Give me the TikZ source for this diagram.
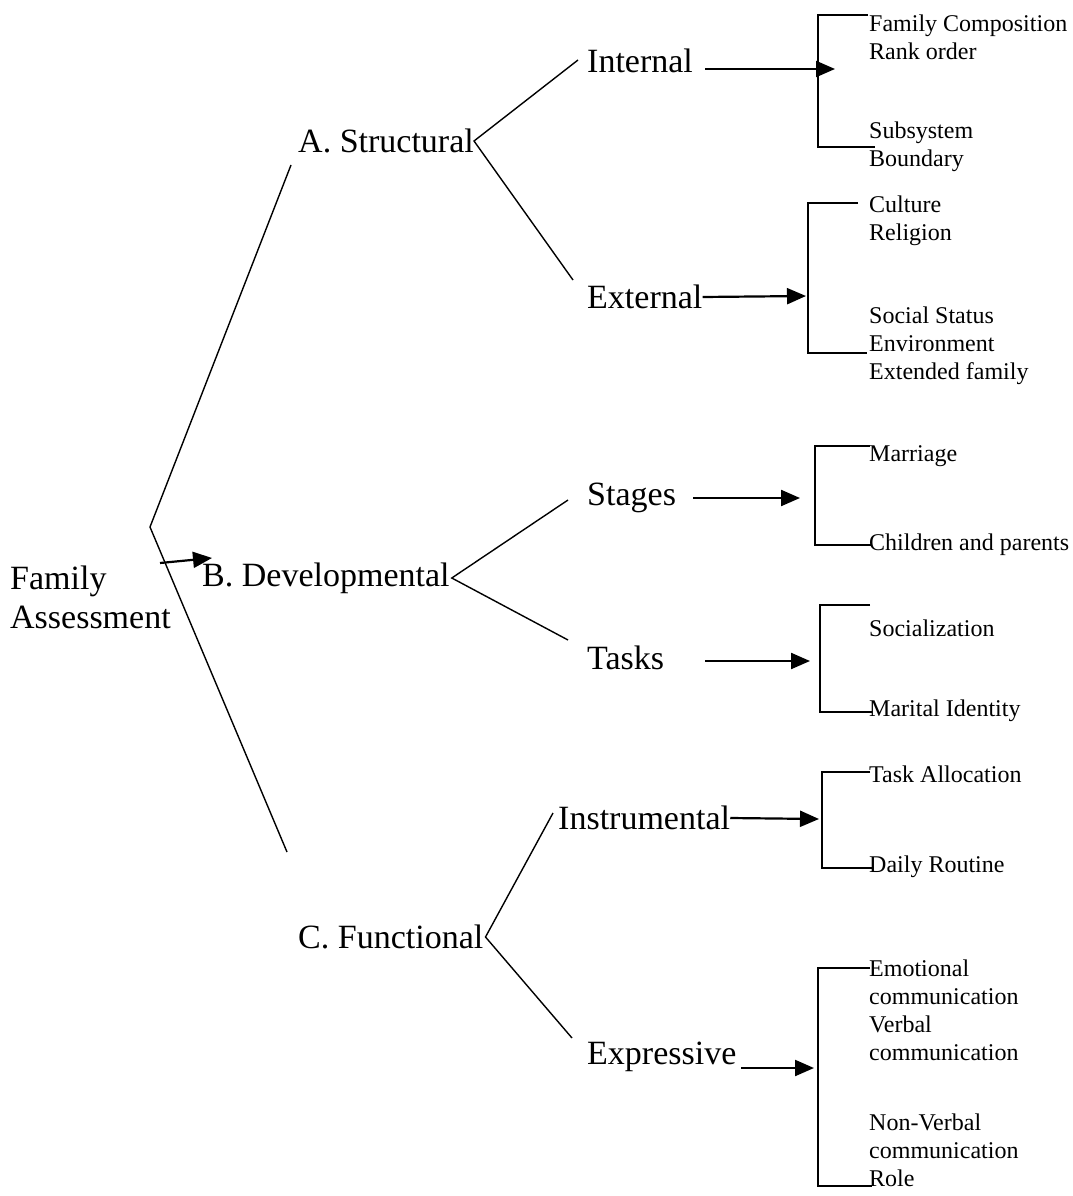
\documentclass[tikz,border=0pt]{standalone}
\usepackage{fontspec}
\setmainfont{Liberation Serif}
\usetikzlibrary{arrows.meta}

\begin{document}
\begin{tikzpicture}[x=1pt, y=-1pt,
    big/.style={anchor=west, inner sep=0pt, align=left, font=\fontsize{34}{39}\selectfont},
    small/.style={anchor=west, inner sep=0pt, align=left, font=\fontsize{24}{28}\selectfont},
    fork/.style={line width=1.4pt},
    brace/.style={line width=2pt},
    arr/.style={line width=2.2pt, -{Triangle[length=19pt,width=16pt]}}]
\useasboundingbox (0,0) rectangle (1072,1196);

% main labels
\node[big] (fam) at (10,597) {Family\\Assessment};
\node[big] (str) at (298,141) {A. Structural};
\node[big] (dev) at (202,578) {B. Developmental};
\node[big] (fun) at (298,937) {C. Functional};

\node[big] (int) at (587,61)   {Internal};
\node[big] (ext) at (587,297)  {External};
\node[big] (stg) at (587,498)  {Stages};
\node[big] (tsk) at (587,658)  {Tasks};
\node[big] (ins) at (558,818)  {Instrumental};
\node[big] (exp) at (587,1057) {Expressive};

% items
\node[small] (comp) at (869,37)   {Family Composition\\Rank order};
\node[small] (subs) at (869,147)  {Subsystem\\Boundary};
\node[small] (cult) at (869,221)  {Culture\\Religion};
\node[small] (soc)  at (869,346)  {Social Status\\Environment\\Extended family};
\node[small] (mar)  at (869,456)  {Marriage};
\node[small] (chil) at (869,545)  {Children and parents};
\node[small] (socz) at (869,628)  {Socialization};
\node[small] (mid)  at (869,711)  {Marital Identity};
\node[small] (task) at (869,774)  {Task Allocation};
\node[small] (day)  at (869,867)  {Daily Routine};
\node[small] (emo)  at (869,1010) {Emotional\\communication\\Verbal\\communication};
\node[small] (nonv) at (869,1150) {Non-Verbal\\communication\\Role};

% big bracket
\coordinate (btop) at (291,165);
\coordinate (bmid) at (150,527);
\coordinate (bbot) at (287,852);
\draw[fork] (btop) -- (bmid) -- (bbot);
\coordinate (ba) at (160,563);
\coordinate (bb) at (212,558);
\draw[arr] (ba) -- (bb);

% forks
\coordinate (sI) at (578,60);   \coordinate (sE) at (573,280);
\coordinate (dS) at (568,500);  \coordinate (dT) at (568,640);
\coordinate (fI) at (553,813);  \coordinate (fE) at (572,1038);
\draw[fork] (sI) -- (str.east) -- (sE);
\draw[fork] (dS) -- ([xshift=2pt]dev.east) -- (dT);
\draw[fork] (fI) -- ([xshift=2pt]fun.east) -- (fE);

% arrows to brackets
\draw[arr] (705,69) -- (835,69);
\draw[arr] (ext.east) -- (806,296);
\draw[arr] (693,498) -- (800,498);
\draw[arr] (705,661) -- (810,661);
\draw[arr] (ins.east) -- (819,819);
\draw[arr] (741,1068) -- (814,1068);

% brackets
\draw[brace] (868,15)   -- (818,15)   -- (818,147)  -- (875,147);
\draw[brace] (858,203)  -- (808,203)  -- (808,353)  -- (867,353);
\draw[brace] (870,446)  -- (815,446)  -- (815,545)  -- (872,545);
\draw[brace] (870,605)  -- (820,605)  -- (820,712)  -- (872,712);
\draw[brace] (870,772)  -- (822,772)  -- (822,868)  -- (872,868);
\draw[brace] (870,968)  -- (818,968)  -- (818,1186) -- (872,1186);
\end{tikzpicture}
\end{document}
